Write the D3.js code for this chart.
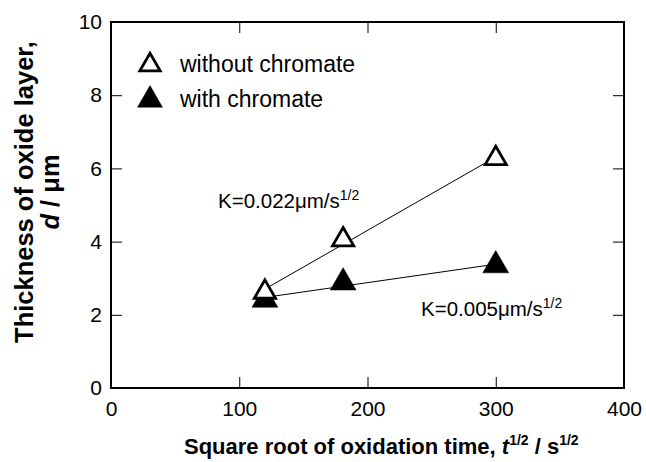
<!DOCTYPE html>
<html>
<head>
<meta charset="utf-8">
<script src="https://cdn.jsdelivr.net/npm/d3@7"></script>
<style>
  body{margin:0;background:#fff}
  svg{display:block;font-family:"Liberation Sans",Arial,sans-serif}
</style>
</head>
<body>
<div id="chart"></div>
<script>
// data
const sqrtTime = [120, 181, 300]
const withoutChromate = [2.62, 4.05, 6.27]
const withChromate = [2.41, 2.88, 3.35]
const xTicks = [0, 100, 200, 300, 400]
const yTicks = [0, 2, 4, 6, 8, 10]
const seriesNames = ["without chromate", "with chromate"]
const slopeLabels = ["K=0.022μm/s", "K=0.005μm/s"]

drawChart("#chart")

function drawChart(id){
    const canvas = createCanvas()
    d3.select(id).html("")
    const svg = d3.select(id).append("svg").attr("width",canvas.width).attr("height",canvas.height)
    const sc = addScales(canvas)

    addAxes(svg,sc,canvas)
    addFitLine(svg,sc,withoutChromate)
    addFitLine(svg,sc,withChromate)
    addPoints(svg,sc,withChromate,true)
    addPoints(svg,sc,withoutChromate,false)
    addLegend(svg)
    addSlopeLabels(svg)
    addLabels(svg)
}

function createCanvas(){
    return {width: 646, height: 462, margin: {top: 22, right: 22, bottom: 74, left: 111}}
}

function addScales(canvas){
    const xScale = d3.scaleLinear().domain([0,400])
      .range([canvas.margin.left, canvas.width - canvas.margin.right])
    const yScale = d3.scaleLinear().domain([0,10])
      .range([canvas.height - canvas.margin.bottom, canvas.margin.top])
    return {xScale, yScale}
}

function addAxes(svg,sc,canvas){
    const [x0,x1] = sc.xScale.range()
    const [y0,y1] = sc.yScale.range()

    const bottom = svg.append("g").attr("transform",`translate(0,${y0})`)
      .call(d3.axisBottom(sc.xScale).tickValues(xTicks).tickSize(-11).tickPadding(13))
    const left = svg.append("g").attr("transform",`translate(${x0},0)`)
      .call(d3.axisLeft(sc.yScale).tickValues(yTicks).tickSize(-11).tickPadding(9))
    const top = svg.append("g").attr("transform",`translate(0,${y1})`)
      .call(d3.axisTop(sc.xScale).tickValues(xTicks).tickSize(-11).tickFormat(""))
    const right = svg.append("g").attr("transform",`translate(${x1},0)`)
      .call(d3.axisRight(sc.yScale).tickValues(yTicks).tickSize(-11).tickFormat(""))

    for(const g of [bottom,left,top,right]){
        g.select(".domain").remove()
        g.selectAll(".tick line").attr("stroke","#000").attr("stroke-width",1)
        g.selectAll(".tick text").attr("font-size","21px").attr("fill","#000")
          .attr("font-family","'Liberation Sans',Arial,sans-serif")
    }

    svg.append("rect").attr("x",x0).attr("y",y1).attr("width",x1-x0).attr("height",y0-y1)
      .attr("fill","none").attr("stroke","#000").attr("stroke-width",2)
}

function addFitLine(svg,sc,values){
    // least squares line through the points, drawn over the data range
    const mx = d3.mean(sqrtTime), my = d3.mean(values)
    const sxy = d3.sum(sqrtTime, (x,i) => (x-mx)*(values[i]-my))
    const sxx = d3.sum(sqrtTime, x => (x-mx)*(x-mx))
    const slope = sxy/sxx
    const ends = d3.extent(sqrtTime).map(x => [x, my + slope*(x-mx)])

    const line = d3.line().x(d => sc.xScale(d[0])).y(d => sc.yScale(d[1]))
    svg.append("path").datum(ends).attr("fill","none").attr("stroke","#000")
      .attr("stroke-width",1).attr("d",line)
}

function addPoints(svg,sc,values,filled){
    const sym = d3.symbol(d3.symbolTriangle, filled ? 290 : 195)
    svg.append("g").selectAll("path").data(values).enter()
      .append("path")
      .attr("transform",(d,i) => `translate(${sc.xScale(sqrtTime[i])},${sc.yScale(d)})`)
      .attr("d",sym)
      .attr("fill",filled ? "#000" : "#fff")
      .attr("stroke","#000").attr("stroke-width",filled ? 0.5 : 2.8)
}

function addLegend(svg){
    const items = [{name: seriesNames[0], filled: false, y: 65},
                   {name: seriesNames[1], filled: true, y: 100}]
    items.forEach(it => {
        svg.append("path").attr("transform",`translate(150,${it.y})`)
          .attr("d",d3.symbol(d3.symbolTriangle, it.filled ? 270 : 180))
          .attr("fill",it.filled ? "#000" : "#fff")
          .attr("stroke","#000").attr("stroke-width",it.filled ? 0.5 : 2.8)
        svg.append("text").attr("x",180).attr("y",it.y + 7)
          .attr("font-size","23px").attr("fill","#000").text(it.name)
    })
}

function addSlopeLabels(svg){
    const pos = [[218,208],[421,316]]
    slopeLabels.forEach((lab,i) => {
        const t = svg.append("text").attr("x",pos[i][0]).attr("y",pos[i][1])
          .attr("font-size","20.5px").attr("fill","#000")
        t.append("tspan").text(lab)
        t.append("tspan").attr("dy",-8).attr("font-size","14px").text("1/2")
    })
}

function addLabels(svg){
    const xt = svg.append("text").attr("x",184).attr("y",454)
      .attr("font-size","22px").attr("font-weight","bold").attr("fill","#000")
    xt.append("tspan").text("Square root of oxidation time, ")
    xt.append("tspan").attr("font-style","italic").text("t")
    xt.append("tspan").attr("dy",-9).attr("font-size","14px").text("1/2")
    xt.append("tspan").attr("dy",9).text(" / s")
    xt.append("tspan").attr("dy",-9).attr("font-size","14px").text("1/2")

    const yt = svg.append("text").attr("transform","translate(33,192) rotate(-90)")
      .attr("text-anchor","middle").attr("font-size","25.5px").attr("font-weight","bold").attr("fill","#000")
    yt.append("tspan").attr("x",0).attr("y",0).text("Thickness of oxide layer,")
    const l2 = yt.append("tspan").attr("x",0).attr("y",26)
    l2.append("tspan").attr("font-style","italic").text("d")
    l2.append("tspan").text(" / μm")
}
</script>
</body>
</html>
